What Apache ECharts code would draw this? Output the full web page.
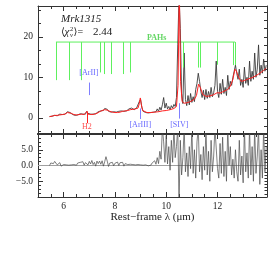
<!DOCTYPE html>
<html><head><meta charset="utf-8">
<script src="https://cdn.jsdelivr.net/npm/echarts@6/dist/echarts.min.js"></script>
<style>html,body{margin:0;padding:0;background:#fff}#c{width:274px;height:274px}</style>
</head><body><div id="c"></div>
<script>
// ---- data ----
const wl = [
 5.45,5.50,5.55,5.60,5.65,5.70,5.75,5.80,5.85,5.90,
 5.95,6.00,6.05,6.10,6.15,6.20,6.25,6.30,6.35,6.40,
 6.45,6.50,6.55,6.60,6.65,6.70,6.75,6.80,6.85,6.90,
 6.95,7.00,7.05,7.10,7.15,7.20,7.25,7.30,7.35,7.40,
 7.45,7.50,7.55,7.60,7.65,7.70,7.75,7.80,7.85,7.90,
 7.95,8.00,8.05,8.10,8.15,8.20,8.25,8.30,8.35,8.40,
 8.45,8.50,8.55,8.60,8.65,8.70,8.75,8.80,8.85,8.90,
 8.95,9.00,9.05,9.10,9.15,9.20,9.25,9.30,9.35,9.40,
 9.45,9.50,9.55,9.60,9.65,9.70,9.75,9.80,9.85,9.90,
 9.95,10.00,10.05,10.10,10.15,10.20,10.25,10.30,10.35,10.40,
 10.45,10.50,10.55,10.60,10.65,10.70,10.75,10.80,10.85,10.90,
 10.95,11.00,11.05,11.10,11.15,11.20,11.25,11.30,11.35,11.40,
 11.45,11.50,11.55,11.60,11.65,11.70,11.75,11.80,11.85,11.90,
 11.95,12.00,12.05,12.10,12.15,12.20,12.25,12.30,12.35,12.40,
 12.45,12.50,12.55,12.60,12.65,12.70,12.75,12.80,12.85,12.90,
 12.95,13.00,13.05,13.10,13.15,13.20,13.25,13.30,13.35,13.40,
 13.45,13.50,13.55,13.60,13.65,13.70,13.75,13.80,13.85,13.90
];
const flux = [
 0.3,0.2,0.4,0.3,0.6,0.8,0.5,0.6,0.9,0.7,
 0.8,1.0,0.9,1.2,1.5,1.6,1.3,1.0,0.8,0.9,
 0.6,0.8,0.7,0.9,1.0,0.8,0.9,0.7,0.9,1.6,
 1.1,0.8,0.9,0.7,0.9,1.1,1.0,1.3,1.5,1.9,
 1.7,2.0,1.8,2.3,1.9,2.1,1.6,1.8,1.4,1.3,
 1.5,1.2,1.4,1.3,1.6,1.4,1.7,1.8,1.6,1.9,
 1.7,2.0,2.2,2.1,2.4,2.2,2.0,2.3,2.5,2.8,
 4.0,4.6,2.6,1.6,1.4,1.3,1.4,1.2,1.5,1.3,
 1.6,1.4,1.8,1.5,2.2,1.6,2.6,1.9,3.2,5.0,
 2.4,3.6,2.2,2.8,2.0,3.0,2.4,3.3,2.8,5.0,
 18,30,22,6.0,3.5,16,4.5,3.0,5.5,3.2,
 6.0,3.8,5.2,4.0,7.0,8.5,11.0,9.0,6.5,5.0,
 6.8,4.5,7.0,4.8,6.5,5.0,7.5,5.2,6.2,8.0,
 14.0,6.5,5.0,8.5,5.8,9.5,6.0,7.5,5.5,10.5,
 7.0,9.0,8.0,10.0,11.5,13.0,11.0,9.5,12.0,8.0,
 9.5,7.5,12.5,8.5,10.0,8.0,14.0,9.0,11.5,9.5,
 16.0,10.0,12.0,18.0,10.5,13.0,11.0,14.5,11.5,13.0
];
const resid = [
 0.0,0.8,1.2,0.6,1.3,0.9,0.2,0.5,0.9,-0.2,
 0.4,0.3,-0.3,0.2,0.0,0.1,-0.2,0.2,0.0,0.3,
 -0.1,0.1,0.8,0.3,1.0,0.4,1.2,0.1,0.9,1.5,
 0.2,1.3,0.5,1.6,0.3,1.0,-0.2,1.4,0.6,1.4,
 0.4,1.5,-0.2,1.2,2.8,1.4,-0.3,0.8,0.2,1.0,
 -0.1,0.7,0.1,1.1,0.0,0.9,0.3,1.0,-0.2,0.6,
 0.2,0.3,0.1,0.4,0.0,0.3,0.1,0.2,0.0,0.3,
 0.0,0.2,-0.1,0.1,0.0,0.2,0.0,-0.1,0.4,0.1,
 0.8,0.2,1.5,0.4,2.5,0.6,4.5,2.0,12,7.5,
 1.0,9.5,0.5,6.0,-1.5,8.0,1.0,12,2.5,6.0,
 12,-12,8,-3,2.5,12,-2,4,-3.5,6,
 -1,12,-2.5,5,-4,7.5,12,-2,3.5,-4.5,
 6,-1.5,12,-3,4.5,-5,8,-2,3,12,
 12,-1,-4,7,-2.5,9,-3.5,4.5,-5,12,
 0,6,-3,2,-4,5,-2,-5,8,-3,
 3,-5.5,12,-2,4,-4,12,-3,6,-5,
 12,-2.5,3,12,-6,5,-4,12,-2,6
];
const modelWl = [
 5.45,5.55,5.65,5.75,5.85,5.95,6.05,6.15,6.22,6.30,
 6.40,6.50,6.60,6.70,6.80,6.87,6.91,6.95,7.00,7.10,
 7.20,7.30,7.40,7.50,7.60,7.70,7.80,7.90,8.00,8.10,
 8.20,8.30,8.40,8.50,8.60,8.70,8.80,8.90,8.95,8.99,
 9.03,9.08,9.15,9.25,9.40,9.55,9.70,9.85,10.00,10.15,
 10.30,10.40,10.46,10.51,10.56,10.62,10.70,10.80,10.90,11.00,
 11.10,11.18,11.26,11.33,11.42,11.55,11.70,11.85,11.99,12.10,
 12.20,12.30,12.40,12.50,12.60,12.68,12.74,12.82,12.92,13.05,
 13.20,13.35,13.50,13.65,13.80,13.90
];
const modelFlux = [
 0.3,0.4,0.6,0.6,0.7,0.8,0.9,1.3,1.5,1.1,
 0.8,0.7,0.8,0.9,0.8,0.8,1.6,0.9,0.9,0.8,
 0.9,1.1,1.5,1.8,2.0,1.9,1.6,1.4,1.3,1.3,
 1.4,1.6,1.7,1.8,2.0,2.1,2.2,2.4,3.5,4.9,
 3.2,1.8,1.4,1.3,1.3,1.4,1.5,1.7,1.8,2.0,
 2.3,2.8,8.0,32,9.0,4.0,3.6,3.7,3.9,4.2,
 4.6,5.5,8.3,7.5,5.8,5.3,5.4,5.7,6.2,6.1,
 6.4,6.7,7.0,7.8,9.5,12.0,11.5,10.0,9.0,9.2,
 9.6,9.9,10.4,11.0,11.7,12.2
];
const pahWl     = [5.70,6.22,6.69,7.42,7.60,7.85,8.33,8.61,10.68,11.23,11.33,11.99,12.62,12.69];
const pahBottom = [9.3,9.3,9.3,11.2,10.8,10.8,10.8,11.2,12.4,12.4,12.4,13.1,13.0,13.0];
const pahTop = 18.7;
const ionNames = ['[ArII]','[ArIII]','[SIV]'];
const ionWl    = [6.985, 8.99, 10.51];
const ionLo    = [5.6, -0.3, -0.2];
const ionHi    = [8.7, 2.3, 3.6];
const ionLabelY= [11.1, -1.8, -1.8];
const h2Name = 'H2', h2Wl = 6.91, h2Lo = -1.3, h2Hi = 1.5, h2LabelY = -2.2;
const pahLabel = 'PAHs', pahLabelWl = 9.63, pahLabelY = 19.6;
const xMajor = [6,8,10,12];
const yTopMajor = [0,10,20];
const yTopMinor = [-3.33,3.33,6.67,13.33,16.67,23.33,26.67];
const yBotMajor = [-5,0,5];
const sourceName = 'Mrk1315';
const chiValue = '2.44';

// ---- layout / style ----
const X_MIN = 5, X_MAX = 13.93;
const TOP_MIN = -4, TOP_MAX = 27.6, BOT_MIN = -10, BOT_MAX = 10;
const FONT = 'Liberation Serif';
const AX = '#333';
const GREEN = '#5ef05e', BLUE = '#4040ff', LBLUE = '#7f7fff', RED = '#ff2020';

function xa(grid, pos, major, withLabels, lineW) {
  const tick = {show:true, inside:true, length: major?5:3, lineStyle:{color:AX, width:1}};
  if (major) tick.customValues = xMajor;
  const o = {type:'value', gridIndex:grid, position:pos, min:X_MIN, max:X_MAX, interval:0.5,
    axisLine:{show:!major, onZero:false, lineStyle:{color:AX, width:lineW||1}},
    axisTick:tick, splitLine:{show:false},
    axisLabel:{show:false}};
  if (withLabels) {
    o.axisLabel = {show:true, customValues:xMajor, margin:4, color:'#222', fontFamily:FONT, fontSize:9.5};
    o.name = 'Rest\u2212frame \u03bb (\u03bcm)';
    o.nameLocation = 'middle'; o.nameGap = 14;
    o.nameTextStyle = {fontFamily:FONT, fontSize:11, color:'#222'};
  }
  return o;
}
function ya(grid, pos, min, max, cfg) {
  const tick = {show:true, inside:true, length: cfg.len, lineStyle:{color:AX, width:1}};
  if (cfg.custom) tick.customValues = cfg.custom;
  const o = {type:'value', gridIndex:grid, position:pos, min:min, max:max,
    axisLine:{show:!!cfg.line, onZero:false, lineStyle:{color:AX, width:1}},
    axisTick:tick, splitLine:{show:false}, axisLabel:{show:false}};
  if (cfg.interval) o.interval = cfg.interval;
  if (cfg.labels) o.axisLabel = {show:true, customValues:cfg.custom, margin:5, color:'#222',
      fontFamily:FONT, fontSize:9.5, formatter:cfg.fmt};
  return o;
}

const xAxes = [
  xa(0,'bottom',false,false,2), xa(0,'bottom',true,false),
  xa(0,'top',false,false),      xa(0,'top',true,false),
  xa(1,'bottom',false,false),   xa(1,'bottom',true,true),
  xa(1,'top',false,false,2),    xa(1,'top',true,false)
];
const yAxes = [
  ya(0,'left',TOP_MIN,TOP_MAX,{len:5, custom:yTopMajor, labels:true, line:true, fmt:v=>String(v)}),
  ya(0,'left',TOP_MIN,TOP_MAX,{len:3, custom:yTopMinor}),
  ya(0,'right',TOP_MIN,TOP_MAX,{len:3, interval:2, line:true}),
  ya(1,'left',BOT_MIN,BOT_MAX,{len:5, custom:yBotMajor, labels:true, line:true,
      fmt:v=>Number(v).toFixed(1).replace('-','\u2212')}),
  ya(1,'left',BOT_MIN,BOT_MAX,{len:3, interval:1.25}),
  ya(1,'right',BOT_MIN,BOT_MAX,{len:2.5, interval:1, line:true})
];

const base = {type:'line', symbol:'none', showSymbol:false, animation:false, silent:true};
const series = [];
// residual zero line
series.push(Object.assign({}, base, {xAxisIndex:4, yAxisIndex:3,
  data:[[X_MIN,0],[X_MAX,0]], lineStyle:{color:'#a0a0a0', width:1}}));
// residuals
series.push(Object.assign({}, base, {xAxisIndex:4, yAxisIndex:3,
  data: wl.map((x,i)=>[x,resid[i]]), lineStyle:{color:'#4a4a4a', width:0.7}}));
// PAH comb
series.push(Object.assign({}, base, {xAxisIndex:0, yAxisIndex:0,
  data:[[pahWl[0],pahTop],[pahWl[pahWl.length-1],pahTop]], lineStyle:{color:GREEN, width:1},
  markLine:{silent:true, animation:false, symbol:['none','none'], label:{show:false},
    lineStyle:{color:GREEN, width:1, type:'solid'},
    data: pahWl.map((x,i)=>[{coord:[x,pahTop]},{coord:[x,pahBottom[i]]}])}}));
// data
series.push(Object.assign({}, base, {xAxisIndex:0, yAxisIndex:0,
  data: wl.map((x,i)=>[x,flux[i]]), lineStyle:{color:'#333', width:0.85}}));
// model
series.push(Object.assign({}, base, {xAxisIndex:0, yAxisIndex:0,
  data: modelWl.map((x,i)=>[x,modelFlux[i]]), lineStyle:{color:RED, width:1}}));
// labels + ion markers
const lblData = ionNames.map((n,i)=>({name:n, value:[ionWl[i], ionLabelY[i]], label:{color:BLUE}}));
lblData.push({name:h2Name, value:[h2Wl,h2LabelY], label:{color:RED}});
lblData.push({name:pahLabel, value:[pahLabelWl,pahLabelY], label:{color:'#3ccc3c', fontSize:8, fontWeight:'bold'}});
const mk = ionWl.map((x,i)=>[{coord:[x,ionLo[i]], lineStyle:{color:LBLUE}},{coord:[x,ionHi[i]]}]);
mk.push([{coord:[h2Wl,h2Lo], lineStyle:{color:RED}},{coord:[h2Wl,h2Hi]}]);
series.push({type:'scatter', xAxisIndex:0, yAxisIndex:0, animation:false, silent:true,
  symbolSize:1, itemStyle:{color:'rgba(0,0,0,0)'}, data:lblData,
  label:{show:true, position:'inside', formatter:p=>p.name, fontFamily:FONT, fontSize:8},
  markLine:{silent:true, animation:false, symbol:['none','none'], label:{show:false},
    lineStyle:{width:1, type:'solid'}, data:mk}});

const txt = (x,y,t,size,style,extra)=>Object.assign({type:'text', silent:true,
  style:{x:x, y:y, text:t, fill:'#222', align:'left', verticalAlign:'middle',
    font:(style||'normal')+' '+size+'px "'+FONT+'", "DejaVu Serif", serif'}}, extra||{});

const chart = echarts.init(document.getElementById('c'), null, {renderer:'canvas'});
chart.setOption({
  backgroundColor:'#fff', animation:false,
  grid:[{left:38, top:6, width:229, height:128}, {left:38, top:134, width:229, height:63}],
  xAxis:xAxes, yAxis:yAxes, series:series,
  graphic:[
    txt(61,19,sourceName,11,'italic'),
    txt(61,32,'\u27e8',10,'normal'),
    txt(64.5,32,'\u03c7',11,'italic'),
    txt(70,29,'2',6.5,'normal'),
    txt(70,35.5,'\u03bd',6.5,'italic'),
    txt(73.5,32,'\u27e9=',10,'normal'),
    txt(93,32,chiValue,11,'normal')
  ]
});
</script></body></html>
